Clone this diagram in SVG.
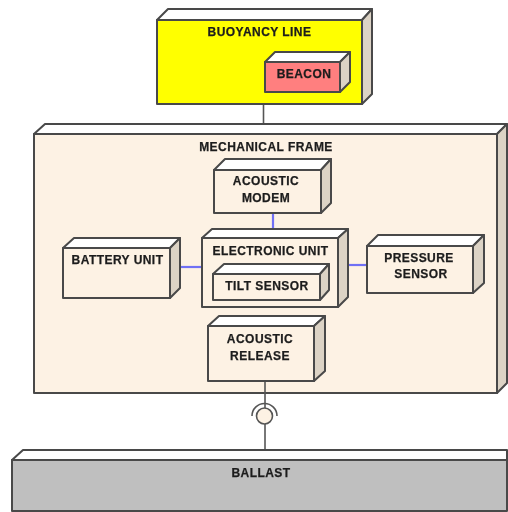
<svg xmlns="http://www.w3.org/2000/svg" width="508" height="512" viewBox="0 0 508 512">
<style>
.box{stroke:#484848;stroke-width:2;stroke-linejoin:round}
.top{fill:#fff}
.side{fill:#dcd3c5}
.cream{fill:#fdf2e4}
.conn{fill:none;stroke:#555;stroke-width:1.6}
.blue{fill:none;stroke:#6f6ff5;stroke-width:2.2}
text{font-family:"Liberation Sans",Arial,sans-serif;font-weight:700;font-size:12px;letter-spacing:.45px;fill:#1c1c1c;stroke:#1c1c1c;stroke-width:.25;text-anchor:middle}
</style>
<defs><filter id="soft" x="-2%" y="-2%" width="104%" height="104%"><feGaussianBlur stdDeviation="0.55"/></filter></defs>
<rect width="508" height="512" fill="#fff"/>
<g filter="url(#soft)">
<g id="connectors-back">
<path class="conn" d="M263.500 104V124"/>
</g>
<g id="buoyancy-line">
<path class="box top" d="M157 20L168 9H372L362 20Z"/>
<path class="box side" d="M362 20L372 9V94L362 104Z"/>
<rect class="box" x="157" y="20" width="205" height="84" fill="#ffff00"/>
<text x="259.500" y="36">BUOYANCY LINE</text>
</g>
<g id="beacon">
<path class="box top" d="M265 62L275 52H350L340 62Z"/>
<path class="box side" d="M340 62L350 52V82L340 92Z"/>
<rect class="box" x="265" y="62" width="75" height="30" fill="#ff7f7f"/>
<text x="304" y="78">BEACON</text>
</g>
<g id="mechanical-frame">
<path class="box top" d="M34 134L45 124H507L497 134Z"/>
<path class="box side" d="M497 134L507 124V383L497 393Z"/>
<rect class="box cream" x="34" y="134" width="463" height="259"/>
<text x="266" y="151">MECHANICAL FRAME</text>
</g>
<g id="connectors">
<path class="blue" d="M273 213V229"/>
<path class="blue" d="M180 267H202"/>
<path class="blue" d="M348 265H367"/>
<path class="conn" d="M265 381V408"/>
<path class="conn" d="M265 424V450"/>
<circle cx="264.500" cy="416" r="8" fill="#fdf2e4" stroke="#555" stroke-width="1.6"/>
<path class="conn" d="M252 416A12.500 12.500 0 0 1 277 416"/>
</g>
<g id="acoustic-modem">
<path class="box top" d="M214 170L225 159H331L321 170Z"/>
<path class="box side" d="M321 170L331 159V203L321 213Z"/>
<rect class="box cream" x="214" y="170" width="107" height="43"/>
<text x="266" y="185">ACOUSTIC</text>
<text x="266" y="202">MODEM</text>
</g>
<g id="electronic-unit">
<path class="box top" d="M202 238L212 229H348L338 238Z"/>
<path class="box side" d="M338 238L348 229V297L338 307Z"/>
<rect class="box cream" x="202" y="238" width="136" height="69"/>
<text x="270.500" y="255">ELECTRONIC UNIT</text>
</g>
<g id="tilt-sensor">
<path class="box top" d="M213 274L224 264H329L320 274Z"/>
<path class="box side" d="M320 274L329 264V290L320 300Z"/>
<rect class="box cream" x="213" y="274" width="107" height="26"/>
<text x="267" y="290">TILT SENSOR</text>
</g>
<g id="acoustic-release">
<path class="box top" d="M208 326L219 316H325L314 326Z"/>
<path class="box side" d="M314 326L325 316V371L314 381Z"/>
<rect class="box cream" x="208" y="326" width="106" height="55"/>
<text x="260" y="343">ACOUSTIC</text>
<text x="260" y="360">RELEASE</text>
</g>
<g id="battery-unit">
<path class="box top" d="M63 248L74 238H180L170 248Z"/>
<path class="box side" d="M170 248L180 238V288L170 298Z"/>
<rect class="box cream" x="63" y="248" width="107" height="50"/>
<text x="117.500" y="264">BATTERY UNIT</text>
</g>
<g id="pressure-sensor">
<path class="box top" d="M367 246L378 235H484L473 246Z"/>
<path class="box side" d="M473 246L484 235V283L473 293Z"/>
<rect class="box cream" x="367" y="246" width="106" height="47"/>
<text x="419" y="262">PRESSURE</text>
<text x="421" y="278">SENSOR</text>
</g>
<g id="ballast">
<path class="box top" d="M12 460L23 450H507V460Z"/>
<rect class="box" x="12" y="460" width="495" height="51" fill="#bfbfbf"/>
<text x="261" y="477">BALLAST</text>
</g>
</g>
</svg>
